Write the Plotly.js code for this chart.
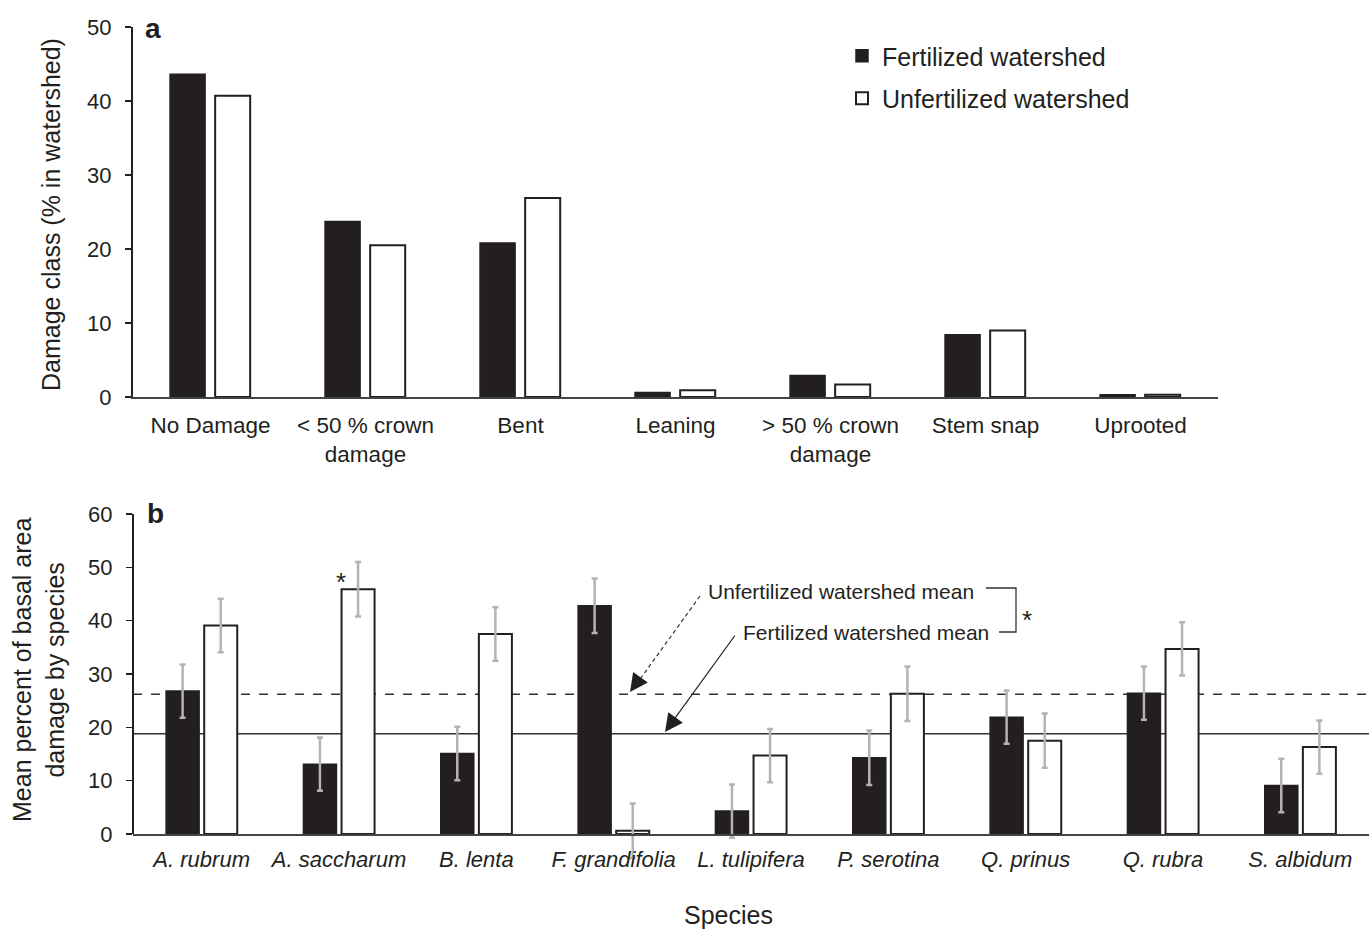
<!DOCTYPE html>
<html><head><meta charset="utf-8">
<script src="https://cdn.plot.ly/plotly-3.0.1.min.js"></script>
<style>html,body{margin:0;padding:0;background:#fff}#chart{width:1369px;height:929px}</style>
</head><body><div id="chart"></div>
<script>
// ---- Panel a data ----
const damageClasses = ['No Damage', '< 50 % crown<br>damage', 'Bent', 'Leaning', '> 50 % crown<br>damage', 'Stem snap', 'Uprooted'];
const damageFertilized = [43.6, 23.7, 20.8, 0.6, 2.9, 8.4, 0.3];
const damageUnfertilized = [40.7, 20.5, 26.9, 0.9, 1.7, 9.0, 0.3];

// ---- Panel b data ----
const species = ['A. rubrum', 'A. saccharum', 'B. lenta', 'F. grandifolia', 'L. tulipifera', 'P. serotina', 'Q. prinus', 'Q. rubra', 'S. albidum'];
const basalFertilized = [26.8, 13.1, 15.1, 42.8, 4.3, 14.3, 21.9, 26.4, 9.1];
const basalFertilizedErr = [5.0, 5.0, 5.0, 5.1, 5.0, 5.1, 5.0, 5.0, 5.0];
const basalUnfertilized = [39.1, 45.9, 37.5, 0.6, 14.7, 26.3, 17.5, 34.7, 16.3];
const basalUnfertilizedErr = [5.0, 5.1, 5.0, 5.1, 5.0, 5.1, 5.1, 5.0, 5.0];
const fertilizedMean = 18.8;
const unfertilizedMean = 26.2;

const seriesNames = ['Fertilized watershed', 'Unfertilized watershed'];

// ---- styling ----
const FONT = 'Arial, "Liberation Sans", Helvetica, sans-serif';
const INK = '#231f20';
const ERR = '#b3b3b3';
const W = 1369, H = 929, ML = 133, MR = 0, MT = 27, MB = 60;
const PW = W - ML - MR, PH = H - MT - MB;
const px = x => (x - ML) / PW;          // pixel -> paper x
const py = y => (H - MB - y) / PH;      // pixel -> paper y

// panel b vertical geometry: value 0 at pixel 834, 60 at 514; range starts below 0 so error bars are not clipped
const bTopPx = 514, bZeroPx = 834, bMin = -5, bMax = 60;
const bBottomPx = bZeroPx + (bZeroPx - bTopPx) / bMax * (-bMin);

const traces = [
  {type: 'bar', name: seriesNames[0], x: damageClasses, y: damageFertilized, xaxis: 'x', yaxis: 'y',
   marker: {color: INK, line: {color: INK, width: 1.5}}, width: 0.226, offset: -0.261,
   legendgroup: 'f', showlegend: true},
  {type: 'bar', name: seriesNames[1], x: damageClasses, y: damageUnfertilized, xaxis: 'x', yaxis: 'y',
   marker: {color: '#ffffff', line: {color: INK, width: 2}}, width: 0.226, offset: 0.03,
   legendgroup: 'u', showlegend: true},
  {type: 'bar', name: seriesNames[0], x: species, y: basalFertilized, xaxis: 'x2', yaxis: 'y2',
   marker: {color: INK, line: {color: INK, width: 1.5}}, width: 0.2405, offset: -0.259,
   error_y: {type: 'data', array: basalFertilizedErr, visible: true, color: ERR, thickness: 2.5, width: 3},
   showlegend: false},
  {type: 'bar', name: seriesNames[1], x: species, y: basalUnfertilized, xaxis: 'x2', yaxis: 'y2',
   marker: {color: '#ffffff', line: {color: INK, width: 2}}, width: 0.2405, offset: 0.0185,
   error_y: {type: 'data', array: basalUnfertilizedErr, visible: true, color: ERR, thickness: 2.5, width: 3},
   showlegend: false}
];

const yAxisCommon = {
  showline: true, linecolor: INK, linewidth: 2, ticks: 'outside', ticklen: 6, tickwidth: 1.5, tickcolor: INK,
  showgrid: false, zeroline: false, tickfont: {family: FONT, size: 22, color: INK}, dtick: 10, tick0: 0,
  ticklabelstandoff: 9, fixedrange: true
};
const xAxisCommon = {
  showline: true, linecolor: '#444', linewidth: 1.5, ticks: '', showgrid: false, zeroline: false,
  fixedrange: true, type: 'category'
};

const layout = {
  width: W, height: H,
  margin: {l: ML, r: MR, t: MT, b: MB, pad: 0},
  paper_bgcolor: '#fff', plot_bgcolor: 'rgba(0,0,0,0)',
  barmode: 'overlay',
  font: {family: FONT, color: INK},
  showlegend: true,
  legend: {x: px(842), y: py(33), xanchor: 'left', yanchor: 'top', font: {family: FONT, size: 25, color: INK},
           traceorder: 'grouped', tracegroupgap: 7, bgcolor: 'rgba(0,0,0,0)'},
  xaxis: Object.assign({}, xAxisCommon, {domain: [0, px(1218)], anchor: 'y', ticklabelstandoff: 7,
           tickfont: {family: FONT, size: 22.5, color: INK}}),
  yaxis: Object.assign({}, yAxisCommon, {domain: [py(397), 1], range: [0, 50], anchor: 'x'}),
  xaxis2: Object.assign({}, xAxisCommon, {domain: [0, 1], anchor: 'free', position: py(bZeroPx), ticklabelstandoff: 5,
           tickfont: {family: FONT, size: 22, color: INK, style: 'italic'}}),
  yaxis2: Object.assign({}, yAxisCommon, {domain: [py(bBottomPx), py(bTopPx)], range: [bMin, bMax], anchor: 'x2',
           showline: false}),
  shapes: [
    // y axis line of panel b (from 0 to top)
    {type: 'line', xref: 'x2 domain', yref: 'y2', x0: 0, x1: 0, y0: 0, y1: bMax, line: {color: INK, width: 2}},
    {type: 'line', xref: 'x2 domain', yref: 'y2', x0: 0, x1: 1, y0: fertilizedMean, y1: fertilizedMean,
     line: {color: '#333', width: 1.3}, layer: 'below'},
    {type: 'line', xref: 'x2 domain', yref: 'y2', x0: 0, x1: 1, y0: unfertilizedMean, y1: unfertilizedMean,
     line: {color: '#333', width: 1.3, dash: 'dash'}, layer: 'below'},
    // dashed arrow shaft
    {type: 'line', xref: 'paper', yref: 'paper', x0: px(700), y0: py(596), x1: px(638), y1: py(682),
     line: {color: '#333', width: 1.2, dash: '4px,3px'}},
    // bracket
    {type: 'path', xref: 'paper', yref: 'paper',
     path: `M ${px(986)},${py(588)} L ${px(1016)},${py(588)} L ${px(1016)},${py(632)} L ${px(999)},${py(632)}`,
     line: {color: '#333', width: 1.3}}
  ],
  annotations: [
    {text: '<b>a</b>', xref: 'paper', yref: 'paper', x: px(143), y: py(28), xanchor: 'left', yanchor: 'middle',
     showarrow: false, font: {family: FONT, size: 28, color: INK}},
    {text: '<b>b</b>', xref: 'paper', yref: 'paper', x: px(145), y: py(513), xanchor: 'left', yanchor: 'middle',
     showarrow: false, font: {family: FONT, size: 28, color: INK}},
    {text: 'Damage class (% in watershed)', xref: 'paper', yref: 'paper', x: px(51), y: py(215),
     xanchor: 'center', yanchor: 'middle', textangle: -90, showarrow: false, font: {family: FONT, size: 25, color: INK}},
    {text: 'Mean percent of basal area<br>damage by species', xref: 'paper', yref: 'paper', x: px(38), y: py(670),
     xanchor: 'center', yanchor: 'middle', textangle: -90, showarrow: false, font: {family: FONT, size: 25, color: INK}},
    {text: 'Species', xref: 'paper', yref: 'paper', x: px(728), y: py(915), xanchor: 'center', yanchor: 'middle',
     showarrow: false, font: {family: FONT, size: 25, color: INK}},
    {text: 'Unfertilized watershed mean', xref: 'paper', yref: 'paper', x: px(706), y: py(591), xanchor: 'left',
     yanchor: 'middle', showarrow: false, font: {family: FONT, size: 21, color: INK}},
    {text: 'Fertilized watershed mean', xref: 'paper', yref: 'paper', x: px(741), y: py(632), xanchor: 'left',
     yanchor: 'middle', showarrow: false, font: {family: FONT, size: 21, color: INK}},
    {text: '*', xref: 'paper', yref: 'paper', x: px(1027), y: py(620), xanchor: 'center', yanchor: 'middle',
     showarrow: false, font: {family: FONT, size: 26, color: INK}},
    {text: '*', xref: 'paper', yref: 'paper', x: px(341), y: py(582), xanchor: 'center', yanchor: 'middle',
     showarrow: false, font: {family: FONT, size: 26, color: INK}},
    // dashed arrow head
    {text: '', xref: 'paper', yref: 'paper', x: px(630), y: py(692), ax: 10, ay: -14, showarrow: true,
     arrowhead: 2, arrowsize: 3, arrowwidth: 1.2, arrowcolor: INK, standoff: 0},
    // solid arrow
    {text: '', xref: 'paper', yref: 'paper', x: px(665), y: py(732), ax: 71, ay: -98, showarrow: true,
     arrowhead: 2, arrowsize: 3, arrowwidth: 1.2, arrowcolor: INK, standoff: 0}
  ]
};

Plotly.newPlot('chart', traces, layout, {staticPlot: true, displayModeBar: false});
</script>
</body></html>
